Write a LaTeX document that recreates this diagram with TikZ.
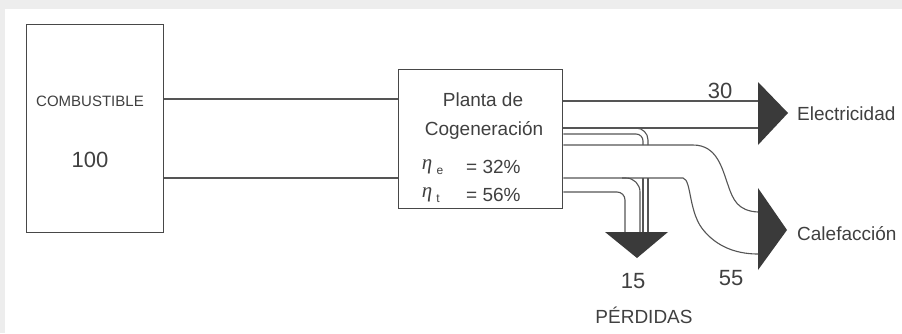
\documentclass[tikz,border=0pt]{standalone}
\usepackage{fontspec}
\setmainfont{Liberation Sans}
\newfontfamily\etafont{Liberation Serif}
\definecolor{linec}{HTML}{555555}
\definecolor{boxc}{HTML}{484848}
\definecolor{headc}{HTML}{3A3A3A}
\definecolor{textc}{HTML}{404040}
\definecolor{framec}{HTML}{EDEDED}
\begin{document}
\begin{tikzpicture}[x=1pt,y=-1pt,
  flow/.style={draw=linec, line width=1.1pt},
  boxnode/.style={draw=boxc, line width=1.4pt, fill=white, anchor=north west, inner sep=0pt},
  head/.style={fill=headc, draw=none},
  lbl/.style={text=textc, inner sep=0pt, font=\fontsize{19}{21}\selectfont},
  small/.style={text=textc, inner sep=0pt, font=\fontsize{15}{17}\selectfont},
  sym/.style={text=textc, inner sep=0pt, font=\fontsize{21}{23}\selectfont\etafont\itshape},
  sub/.style={text=textc, inner sep=0pt, font=\fontsize{12}{14}\selectfont},
  num/.style={text=textc, inner sep=0pt, font=\fontsize{22}{24}\selectfont}]

% page frame
\fill[framec] (0,0) rectangle (902,333);
\fill[white] (5,9) rectangle (902,333);
\useasboundingbox (0,0) rectangle (902,333);

% blocks
\node[boxnode, minimum width=137pt, minimum height=208pt] (comb) at (26,24) {};
\node[boxnode, minimum width=164pt, minimum height=139pt] (plant) at (398,69) {};

\node[small] (tcomb) at (90,101) {COMBUSTIBLE};
\node[num] (tcent) at (90,160) {100};

\node[lbl] (tplanta) at (483,100) {Planta de};
\node[lbl] (tcogen) at (484,130) {Cogeneración};
\node[sym] (etae) at (427,167) {η};
\node[sub] (sube) at (440,171) {e};
\node[sym] (etat) at (427,195) {η};
\node[sub] (subt) at (438,199) {t};
\node[lbl, anchor=west] (vale) at (466,167) {= 32\%};
\node[lbl, anchor=west] (valt) at (466,195) {= 56\%};

% fuel input
\draw[flow] (comb.east |- 0,99) -- (plant.west |- 0,99);
\draw[flow] (comb.east |- 0,178) -- (plant.west |- 0,178);

% electricity
\coordinate (elecTip) at (788,113);
\draw[flow] (plant.east |- 0,101) -- (758,101);
\draw[flow] (plant.east |- 0,128) -- (758,128);
\fill[head] (758,82) -- (elecTip) -- (758,145) -- cycle;
\node[num] (t30) at (720,91) {30};
\node[lbl, anchor=west] (telec) at (797,114) {Electricidad};

% losses, upper strip (passes behind the heat band)
\draw[flow, rounded corners=12pt] (634,128) -- (648,128) -- (648,145);
\draw[flow, rounded corners=7pt] (plant.east |- 0,134) -- (643,134) -- (643,145);
\draw[flow] (648,178) -- (648,232);
\draw[flow] (643,178) -- (643,232);

% losses, lower strip
\draw[flow, rounded corners=14pt] (622,178) -- (640,178) -- (640,232);
\draw[flow, rounded corners=8pt] (plant.east |- 0,192) -- (625,192) -- (625,232);
\coordinate (lossTip) at (637,258);
\fill[head] (605,232) -- (668,232) -- (lossTip) -- cycle;
\node[num] (t15) at (633,281) {15};
\node[lbl] (tperd) at (644,315) {PÉRDIDAS};

% heat
\draw[flow] (plant.east |- 0,145) -- (693,145)
  .. controls (717,145) and (722,168) .. (728,185)
  .. controls (733,200) and (738,211) .. (758,212);
\draw[flow] (plant.east |- 0,178) -- (683,178)
  .. controls (692,180) and (688,214) .. (705,232)
  .. controls (720,249) and (740,254) .. (758,254);
\coordinate (heatTip) at (787,230);
\fill[head] (758,188) -- (heatTip) -- (758,270) -- cycle;
\node[num] (t55) at (731,278) {55};
\node[lbl, anchor=west] (theat) at (797,234) {Calefacción};
\end{tikzpicture}
\end{document}
